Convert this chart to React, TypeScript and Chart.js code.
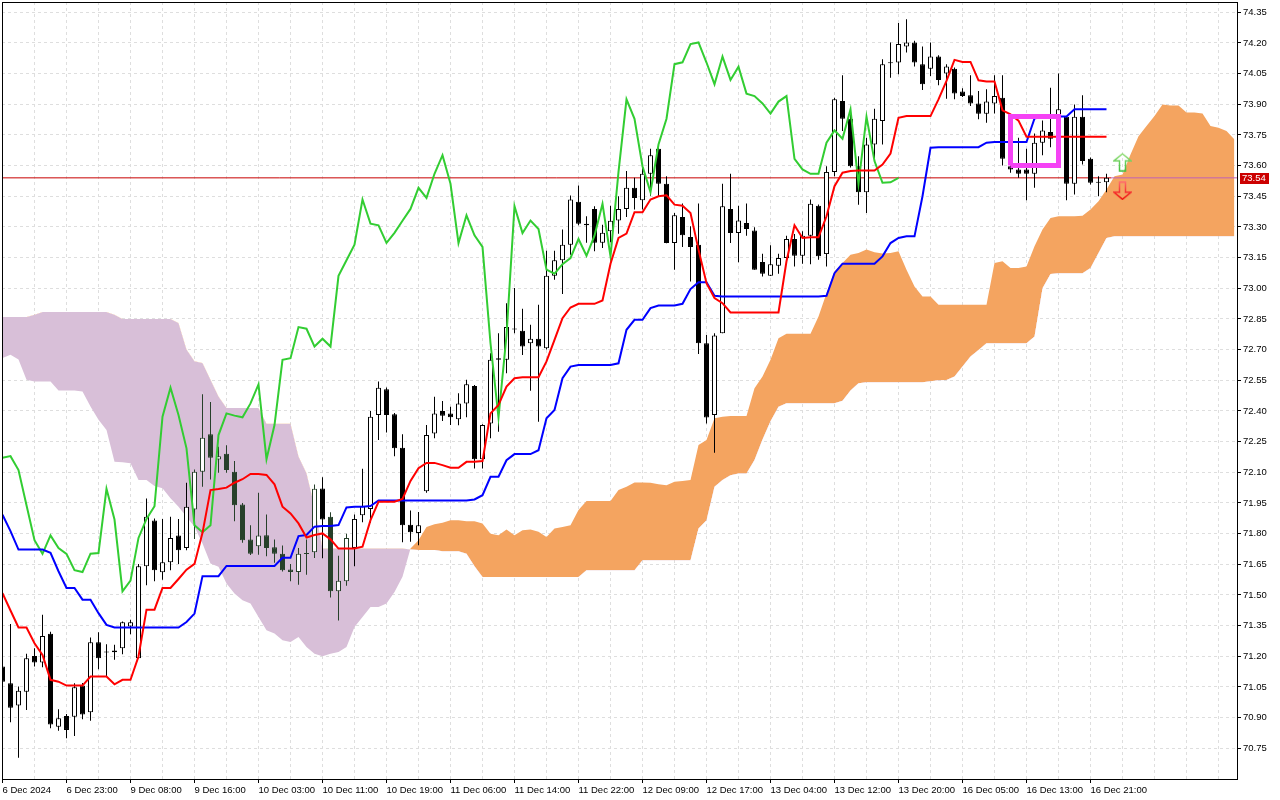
import React, { useEffect, useRef } from "react";
import { Chart, registerables } from "chart.js";

Chart.register(...registerables);

// ---- candle data (hourly bars, index 0..138) ----
const opens = [
  71.150, 71.068, 70.959, 71.027, 71.201, 71.170, 71.310, 70.856, 70.908, 70.905,
  71.057, 70.926, 71.269, 71.220, 71.220, 71.240, 71.346, 71.191, 71.640, 71.864,
  71.611, 71.660, 71.791, 71.730, 71.918, 72.103, 72.286, 72.163, 72.191, 72.103,
  71.942, 71.771, 71.738, 71.792, 71.733, 71.702, 71.624, 71.612, 71.700, 71.709,
  72.021, 71.882, 71.518, 71.567, 71.730, 71.890, 71.921, 72.380, 72.506, 72.384,
  72.220, 71.844, 71.803, 72.007, 72.290, 72.400, 72.388, 72.359, 72.437, 72.522,
  72.164, 72.339, 72.650, 72.650, 72.800, 72.792, 72.731, 72.753, 72.707, 73.061,
  73.137, 73.213, 73.423, 73.316, 73.388, 73.222, 73.279, 73.331, 73.388, 73.491,
  73.431, 73.560, 73.682, 73.511, 73.221, 73.349, 73.251, 73.213, 72.731, 72.380,
  72.780, 73.388, 73.270, 73.319, 73.282, 73.128, 73.061, 73.110, 73.148, 73.241,
  73.159, 73.257, 73.404, 73.167, 73.569, 73.916, 73.829, 73.597, 73.470, 73.703,
  73.818, 74.100, 74.104, 74.182, 74.202, 74.096, 74.074, 74.133, 74.050, 74.074,
  73.962, 73.944, 73.904, 73.854, 73.903, 73.932, 73.597, 73.581, 73.581, 73.560,
  73.712, 73.764, 73.731, 73.839, 73.511, 73.839, 73.633, 73.518, 73.519,
];
const highs = [
  71.220, 71.358, 71.052, 71.212, 71.240, 71.403, 71.320, 70.941, 70.918, 71.068,
  71.070, 71.292, 71.318, 71.259, 71.256, 71.370, 71.379, 71.652, 71.972, 71.874,
  71.872, 71.882, 71.872, 72.049, 72.114, 72.482, 72.444, 72.225, 72.232, 72.155,
  71.950, 71.841, 72.000, 71.893, 71.771, 71.742, 71.652, 71.730, 71.771, 72.040,
  72.076, 71.905, 71.692, 71.800, 71.893, 72.117, 72.400, 72.544, 72.515, 72.390,
  72.286, 71.913, 71.906, 72.331, 72.470, 72.449, 72.421, 72.486, 72.552, 72.527,
  72.335, 72.682, 72.780, 72.927, 73.001, 72.900, 72.821, 72.919, 73.184, 73.184,
  73.287, 73.454, 73.503, 73.352, 73.401, 73.311, 73.404, 73.450, 73.573, 73.540,
  73.594, 73.682, 73.703, 73.548, 73.368, 73.414, 73.303, 73.414, 72.772, 72.780,
  73.511, 73.560, 73.404, 73.414, 73.298, 73.169, 73.210, 73.169, 73.257, 73.265,
  73.279, 73.434, 73.410, 73.597, 73.932, 74.042, 73.859, 73.646, 73.736, 73.878,
  74.120, 74.202, 74.297, 74.316, 74.210, 74.182, 74.202, 74.140, 74.096, 74.080,
  73.978, 74.042, 73.965, 73.973, 74.042, 74.042, 73.600, 73.736, 73.682, 73.757,
  73.821, 73.981, 74.050, 73.840, 73.899, 73.944, 73.640, 73.548, 73.560,
];
const lows = [
  71.030, 70.877, 70.704, 70.938, 71.150, 71.147, 70.848, 70.836, 70.799, 70.810,
  70.892, 70.885, 71.137, 71.104, 71.183, 71.210, 71.308, 71.190, 71.547, 71.567,
  71.575, 71.621, 71.652, 71.719, 71.774, 72.029, 72.065, 72.098, 72.098, 71.861,
  71.755, 71.695, 71.697, 71.689, 71.657, 71.615, 71.567, 71.550, 71.599, 71.681,
  71.680, 71.488, 71.375, 71.545, 71.640, 71.856, 71.853, 72.258, 72.294, 72.179,
  71.758, 71.760, 71.743, 72.000, 72.266, 72.351, 72.331, 72.330, 72.369, 72.119,
  72.119, 72.266, 72.298, 72.584, 72.780, 72.674, 72.499, 72.347, 72.700, 73.042,
  72.972, 73.164, 73.308, 73.222, 73.181, 73.197, 73.225, 73.267, 73.349, 73.385,
  73.385, 73.453, 73.450, 73.220, 73.091, 73.202, 73.033, 72.679, 72.339, 72.195,
  72.780, 73.221, 73.127, 73.257, 73.090, 73.058, 73.060, 73.071, 73.115, 73.107,
  73.120, 73.118, 73.140, 73.107, 73.548, 73.769, 73.590, 73.409, 73.368, 73.630,
  73.703, 74.030, 74.047, 74.153, 74.084, 73.970, 74.038, 73.993, 73.927, 73.924,
  73.935, 73.891, 73.826, 73.810, 73.855, 73.600, 73.565, 73.540, 73.431, 73.491,
  73.651, 73.690, 73.700, 73.431, 73.458, 73.605, 73.507, 73.450, 73.470,
];
const closes = [
  71.076, 70.949, 71.031, 71.191, 71.170, 71.299, 70.867, 70.897, 70.840, 71.049,
  70.916, 71.269, 71.191, 71.222, 71.228, 71.367, 71.367, 71.640, 71.882, 71.621,
  71.660, 71.779, 71.719, 71.931, 72.103, 72.269, 72.171, 72.179, 72.111, 71.939,
  71.768, 71.701, 71.791, 71.730, 71.701, 71.621, 71.612, 71.702, 71.705, 72.019,
  71.869, 71.518, 71.570, 71.779, 71.872, 71.934, 72.372, 72.514, 72.380, 72.217,
  71.841, 71.807, 71.841, 72.282, 72.388, 72.377, 72.369, 72.437, 72.530, 72.164,
  72.331, 72.650, 72.658, 72.810, 72.802, 72.715, 72.753, 72.715, 73.061, 73.137,
  73.213, 73.434, 73.316, 73.308, 73.222, 73.271, 73.330, 73.388, 73.491, 73.442,
  73.560, 73.651, 73.511, 73.221, 73.357, 73.259, 73.202, 72.731, 72.368, 72.769,
  73.401, 73.270, 73.331, 73.290, 73.091, 73.071, 73.118, 73.148, 73.241, 73.159,
  73.257, 73.413, 73.156, 73.569, 73.924, 73.829, 73.597, 73.470, 73.703, 73.829,
  74.096, 74.105, 74.194, 74.202, 74.104, 73.998, 74.133, 74.019, 74.084, 73.952,
  73.940, 73.904, 73.854, 73.913, 73.940, 73.633, 73.581, 73.560, 73.560, 73.712,
  73.772, 73.731, 73.875, 73.511, 73.839, 73.622, 73.516, 73.518, 73.540,
];

// ---- Ichimoku lines ----
const tenkan = [
  71.509, 71.424, 71.341, 71.341, 71.264, 71.207, 71.085, 71.076, 71.057, 71.057,
  71.057, 71.101, 71.101, 71.101, 71.063, 71.085, 71.085, 71.199, 71.428, 71.428,
  71.534, 71.534, 71.578, 71.624, 71.652, 71.804, 72.013, 72.018, 72.025, 72.049,
  72.066, 72.092, 72.092, 72.087, 72.041, 71.932, 71.899, 71.850, 71.781, 71.793,
  71.801, 71.772, 71.727, 71.727, 71.727, 71.736, 71.866, 71.956, 71.956, 71.956,
  71.970, 72.058, 72.120, 72.146, 72.146, 72.135, 72.122, 72.122, 72.151, 72.151,
  72.155, 72.388, 72.429, 72.519, 72.560, 72.565, 72.565, 72.565, 72.642, 72.748,
  72.854, 72.906, 72.924, 72.924, 72.924, 72.940, 73.120, 73.246, 73.267, 73.372,
  73.372, 73.434, 73.450, 73.455, 73.409, 73.404, 73.368, 73.189, 73.025, 72.952,
  72.927, 72.882, 72.882, 72.882, 72.882, 72.882, 72.882, 72.882, 73.132, 73.308,
  73.246, 73.249, 73.249, 73.352, 73.499, 73.565, 73.573, 73.576, 73.576, 73.576,
  73.605, 73.659, 73.834, 73.842, 73.842, 73.842, 73.842, 73.924, 74.014, 74.117,
  74.107, 74.107, 74.017, 74.011, 74.011, 73.870, 73.850, 73.820, 73.741, 73.741,
  73.741, 73.741, 73.741, 73.741, 73.741, 73.741, 73.741, 73.741, 73.741,
];
const kijun = [
  71.893, 71.812, 71.722, 71.722, 71.722, 71.722, 71.706, 71.616, 71.534, 71.534,
  71.477, 71.477, 71.411, 71.354, 71.341, 71.341, 71.341, 71.341, 71.341, 71.341,
  71.341, 71.341, 71.341, 71.368, 71.409, 71.592, 71.592, 71.592, 71.642, 71.642,
  71.642, 71.642, 71.642, 71.642, 71.642, 71.682, 71.682, 71.788, 71.793, 71.834,
  71.837, 71.837, 71.842, 71.928, 71.932, 71.932, 71.935, 71.962, 71.962, 71.962,
  71.962, 71.962, 71.962, 71.962, 71.962, 71.962, 71.962, 71.962, 71.962, 71.967,
  71.988, 72.078, 72.078, 72.159, 72.189, 72.189, 72.189, 72.208, 72.364, 72.405,
  72.560, 72.617, 72.625, 72.625, 72.625, 72.625, 72.625, 72.633, 72.797, 72.846,
  72.846, 72.903, 72.916, 72.916, 72.916, 72.924, 72.996, 73.029, 73.029, 72.963,
  72.960, 72.960, 72.960, 72.960, 72.960, 72.960, 72.960, 72.960, 72.960, 72.960,
  72.960, 72.960, 72.960, 72.963, 73.074, 73.120, 73.120, 73.120, 73.120, 73.120,
  73.156, 73.221, 73.246, 73.254, 73.254, 73.450, 73.687, 73.690, 73.690, 73.690,
  73.690, 73.690, 73.690, 73.712, 73.715, 73.715, 73.715, 73.715, 73.715, 73.830,
  73.840, 73.840, 73.840, 73.840, 73.875, 73.875, 73.875, 73.875, 73.875,
];
// Senkou spans (plotted 26 bars ahead, index 0..154)
const spanA = [
  72.659, 72.675, 72.651, 72.553, 72.544, 72.544, 72.544, 72.500, 72.500, 72.500,
  72.495, 72.422, 72.357, 72.307, 72.152, 72.149, 72.144, 72.062, 72.062, 72.033,
  72.022, 71.973, 71.932, 71.883, 71.834, 71.752, 71.654, 71.638, 71.556, 71.507,
  71.474, 71.458, 71.392, 71.327, 71.311, 71.278, 71.270, 71.294, 71.245, 71.213,
  71.200, 71.213, 71.221, 71.245, 71.343, 71.392, 71.441, 71.441, 71.458, 71.515,
  71.589, 71.727, 71.768, 71.833, 71.846, 71.853, 71.866, 71.866, 71.861, 71.861,
  71.849, 71.800, 71.792, 71.820, 71.792, 71.817, 71.820, 71.809, 71.784, 71.825,
  71.833, 71.841, 71.915, 71.959, 71.959, 71.959, 71.959, 72.013, 72.029, 72.050,
  72.050, 72.049, 72.042, 72.037, 72.054, 72.057, 72.062, 72.233, 72.258, 72.364,
  72.372, 72.375, 72.375, 72.375, 72.511, 72.568, 72.650, 72.756, 72.777, 72.777,
  72.777, 72.777, 72.862, 72.976, 73.083, 73.123, 73.164, 73.172, 73.189, 73.176,
  73.170, 73.172, 73.181, 73.090, 73.009, 72.960, 72.960, 72.919, 72.919, 72.919,
  72.919, 72.919, 72.919, 72.919, 73.123, 73.132, 73.099, 73.099, 73.107, 73.205,
  73.287, 73.344, 73.352, 73.352, 73.352, 73.355, 73.385, 73.426, 73.483, 73.548,
  73.556, 73.654, 73.744, 73.793, 73.842, 73.899, 73.894, 73.894, 73.859, 73.859,
  73.855, 73.793, 73.785, 73.769, 73.728,
];
const spanB = [
  72.860, 72.860, 72.860, 72.860, 72.871, 72.884, 72.884, 72.884, 72.884, 72.884,
  72.884, 72.884, 72.884, 72.884, 72.871, 72.850, 72.850, 72.850, 72.850, 72.850,
  72.850, 72.850, 72.830, 72.700, 72.643, 72.634, 72.553, 72.471, 72.414, 72.414,
  72.414, 72.414, 72.414, 72.337, 72.337, 72.337, 72.337, 72.177, 72.095, 71.932,
  71.727, 71.727, 71.727, 71.727, 71.727, 71.727, 71.727, 71.727, 71.727, 71.727,
  71.727, 71.722, 71.720, 71.720, 71.720, 71.714, 71.714, 71.714, 71.702, 71.640,
  71.588, 71.588, 71.588, 71.588, 71.588, 71.588, 71.588, 71.588, 71.588, 71.588,
  71.588, 71.588, 71.588, 71.621, 71.621, 71.621, 71.621, 71.621, 71.621, 71.621,
  71.670, 71.670, 71.670, 71.670, 71.670, 71.670, 71.670, 71.825, 71.866, 72.029,
  72.062, 72.086, 72.094, 72.094, 72.160, 72.260, 72.350, 72.420, 72.438, 72.438,
  72.438, 72.438, 72.438, 72.438, 72.438, 72.450, 72.500, 72.535, 72.540, 72.540,
  72.540, 72.540, 72.540, 72.540, 72.540, 72.540, 72.545, 72.550, 72.551, 72.568,
  72.617, 72.666, 72.698, 72.731, 72.731, 72.731, 72.731, 72.731, 72.731, 72.764,
  73.000, 73.070, 73.074, 73.074, 73.074, 73.074, 73.099, 73.172, 73.246, 73.254,
  73.254, 73.254, 73.254, 73.254, 73.254, 73.254, 73.254, 73.254, 73.254, 73.254,
  73.254, 73.254, 73.254, 73.254, 73.254,
];
// Chikou span = closing prices plotted 26 bars back (as seen on the chart)
const chikouShift = 26;

// ---- axis labels ----
const timeLabels = [
  "6 Dec 2024", "6 Dec 23:00", "9 Dec 08:00", "9 Dec 16:00", "10 Dec 03:00",
  "10 Dec 11:00", "10 Dec 19:00", "11 Dec 06:00", "11 Dec 14:00", "11 Dec 22:00",
  "12 Dec 09:00", "12 Dec 17:00", "13 Dec 04:00", "13 Dec 12:00", "13 Dec 20:00",
  "16 Dec 05:00", "16 Dec 13:00", "16 Dec 21:00",
];
const priceTicks = [
  70.75, 70.9, 71.05, 71.2, 71.35, 71.5, 71.65, 71.8, 71.95, 72.1, 72.25, 72.4, 72.55,
  72.7, 72.85, 73.0, 73.15, 73.3, 73.45, 73.6, 73.75, 73.9, 74.05, 74.2, 74.35,
];
const lastPrice = 73.54;

// ---- annotations ----
const boxBars = [126, 132];
const boxPrices = [73.6, 73.84];
const arrowBar = 140;
const arrowUpPrice = 73.616;
const arrowDownPrice = 73.477;

// ---- layout / style ----
const X_MIN = -0.0625;
const X_MAX = 154.3125;
const Y_MIN = 70.6;
const Y_MAX = 74.4;
const LABEL_EVERY = 8;
const GRID_EVERY = 4;
const FONT = "'Liberation Sans', Arial, sans-serif";
const ORANGE = "#f4a460";
const THISTLE = "#d8bfd8";

function tint(i: number, price: number): string {
  const a = spanA[i];
  const b = spanB[i];
  if (price > Math.min(a, b) && price < Math.max(a, b)) {
    return b > a ? "#27402a" : "#0b5b9f";
  }
  return "#000000";
}

function isLabelTick(v: number): boolean {
  return v % LABEL_EVERY === 0 && v / LABEL_EVERY < timeLabels.length;
}

function makeArrow(up: boolean, top: string, bottom: string): HTMLCanvasElement {
  const c = document.createElement("canvas");
  c.width = 19;
  c.height = 19;
  const g = c.getContext("2d")!;
  const grad = g.createLinearGradient(0, 0, 0, 19);
  grad.addColorStop(0, top);
  grad.addColorStop(1, bottom);
  g.strokeStyle = grad;
  g.lineWidth = 1.5;
  g.beginPath();
  if (up) {
    g.moveTo(9.5, 1);
    g.lineTo(18, 8);
    g.lineTo(12.5, 8);
    g.lineTo(12.5, 18);
    g.lineTo(6.5, 18);
    g.lineTo(6.5, 8);
    g.lineTo(1, 8);
  } else {
    g.moveTo(9.5, 18);
    g.lineTo(18, 11);
    g.lineTo(12.5, 11);
    g.lineTo(12.5, 1);
    g.lineTo(6.5, 1);
    g.lineTo(6.5, 11);
    g.lineTo(1, 11);
  }
  g.closePath();
  g.stroke();
  return c;
}

const framePlugin = {
  id: "frame",
  afterDraw(chart: any) {
    const { ctx, chartArea: a } = chart;
    const y = chart.scales.y;
    ctx.save();
    ctx.strokeStyle = "#000";
    ctx.lineWidth = 1;
    ctx.strokeRect(a.left + 0.5, a.top + 0.5, a.right - a.left, a.bottom - a.top);
    const py = y.getPixelForValue(lastPrice);
    ctx.fillStyle = "#cc0000";
    ctx.fillRect(a.right + 3, Math.round(py) - 5, 29, 11);
    ctx.fillStyle = "#ffffff";
    ctx.font = `9.5px ${FONT}`;
    ctx.textBaseline = "middle";
    ctx.textAlign = "left";
    ctx.fillText(lastPrice.toFixed(2), a.right + 5, Math.round(py) + 0.5);
    ctx.restore();
  },
};

export default function App() {
  const ref = useRef<HTMLCanvasElement>(null);

  useEffect(() => {
    if (!ref.current) return;
    Chart.defaults.font.family = FONT;

    const pts = (arr: number[], offset = 0) => arr.map((v, i) => ({ x: i + offset, y: v }));

    const bodyData = opens.map((o, i) => {
      const c = closes[i];
      let lo = Math.min(o, c);
      let hi = Math.max(o, c);
      if (hi - lo < 0.005) {
        const m = (hi + lo) / 2;
        lo = m - 0.0025;
        hi = m + 0.0025;
      }
      return { x: i, y: [lo, hi] };
    });
    const tints = opens.map((o, i) => tint(i, (o + closes[i]) / 2));
    const bodyFill = opens.map((o, i) => {
      const c = closes[i];
      if (Math.abs(c - o) < 0.005) return tints[i];
      return c > o ? "#ffffff" : tints[i];
    });

    const gridBars: number[] = [];
    for (let v = 0; v <= X_MAX; v += GRID_EVERY) gridBars.push(v);

    const chikou = closes.slice(chikouShift);
    const priceSplit = 138.6;

    const chart = new Chart(ref.current, {
      type: "bar",
      data: {
        datasets: [
          {
            type: "line",
            data: pts(spanA),
            borderColor: "rgba(0,0,0,0)",
            borderWidth: 0,
            pointRadius: 0,
            fill: { target: 1, above: ORANGE, below: THISTLE },
            order: 40,
          } as any,
          {
            type: "line",
            data: pts(spanB),
            borderColor: "rgba(0,0,0,0)",
            borderWidth: 0,
            pointRadius: 0,
            fill: false,
            order: 41,
          } as any,
          {
            type: "line",
            data: [
              { x: X_MIN, y: lastPrice },
              { x: priceSplit, y: lastPrice },
            ],
            borderColor: "#c80000",
            borderWidth: 1,
            pointRadius: 0,
            order: 35,
          } as any,
          {
            type: "line",
            data: [
              { x: priceSplit, y: lastPrice },
              { x: X_MAX, y: lastPrice },
            ],
            borderColor: "#c060b4",
            borderWidth: 1,
            pointRadius: 0,
            order: 35,
          } as any,
          {
            type: "bar",
            data: highs.map((h, i) => ({ x: i, y: [lows[i], h] })),
            backgroundColor: tints,
            borderWidth: 0,
            grouped: false,
            barPercentage: 0.125,
            categoryPercentage: 1,
            inflateAmount: 0,
            order: 21,
          } as any,
          {
            type: "bar",
            data: bodyData,
            backgroundColor: bodyFill,
            borderColor: tints,
            borderWidth: 1,
            borderSkipped: false,
            grouped: false,
            barPercentage: 0.625,
            categoryPercentage: 1,
            inflateAmount: 0,
            order: 20,
          } as any,
          {
            type: "line",
            data: pts(chikou),
            borderColor: "#32cd32",
            borderWidth: 2,
            pointRadius: 0,
            tension: 0,
            order: 12,
          } as any,
          {
            type: "line",
            data: pts(kijun),
            borderColor: "#0000ff",
            borderWidth: 2,
            pointRadius: 0,
            tension: 0,
            order: 11,
          } as any,
          {
            type: "line",
            data: pts(tenkan),
            borderColor: "#ff0000",
            borderWidth: 2,
            pointRadius: 0,
            tension: 0,
            order: 10,
          } as any,
          {
            type: "line",
            data: [
              { x: boxBars[0], y: boxPrices[0] },
              { x: boxBars[0], y: boxPrices[1] },
              { x: boxBars[1], y: boxPrices[1] },
              { x: boxBars[1], y: boxPrices[0] },
              { x: boxBars[0], y: boxPrices[0] },
            ],
            borderColor: "#f542f5",
            borderWidth: 5,
            borderJoinStyle: "miter",
            pointRadius: 0,
            order: 5,
          } as any,
          {
            type: "line",
            data: [{ x: arrowBar, y: arrowUpPrice }],
            showLine: false,
            pointStyle: makeArrow(true, "#9be07e", "#3cbf3c"),
            pointRadius: 9,
            order: 4,
          } as any,
          {
            type: "line",
            data: [{ x: arrowBar, y: arrowDownPrice }],
            showLine: false,
            pointStyle: makeArrow(false, "#ff7070", "#ee0000"),
            pointRadius: 9,
            order: 4,
          } as any,
        ],
      },
      options: {
        responsive: false,
        animation: false,
        devicePixelRatio: 1,
        events: [],
        layout: { padding: { left: 2, top: 2, right: 0, bottom: 0 }, autoPadding: false },
        plugins: {
          legend: { display: false },
          tooltip: { enabled: false },
        },
        scales: {
          x: {
            type: "linear",
            min: X_MIN,
            max: X_MAX,
            offset: false,
            afterBuildTicks: (s: any) => {
              s.ticks = gridBars.map((v) => ({ value: v }));
            },
            afterFit: (s: any) => {
              s.height = 21;
              s.paddingLeft = 0;
              s.paddingRight = 0;
              s.paddingTop = 0;
              s.paddingBottom = 0;
            },
            ticks: {
              autoSkip: false,
              maxRotation: 0,
              minRotation: 0,
              align: "start",
              padding: 2,
              color: "#000",
              font: { size: 9.5, family: FONT },
              callback: (v: any) =>
                isLabelTick(Number(v)) ? timeLabels[Number(v) / LABEL_EVERY] : "",
            },
            grid: {
              offset: false,
              color: "#dedede",
              lineWidth: 1,
              drawTicks: true,
              tickLength: 4,
              tickWidth: 1,
              tickColor: (c: any) =>
                c.tick && isLabelTick(c.tick.value) ? "#000" : "rgba(0,0,0,0)",
            },
            border: { display: false, dash: [3, 3] },
          } as any,
          y: {
            type: "linear",
            position: "right",
            min: Y_MIN,
            max: Y_MAX,
            afterBuildTicks: (s: any) => {
              s.ticks = priceTicks.map((v) => ({ value: v }));
            },
            afterFit: (s: any) => {
              s.width = 43;
              s.paddingLeft = 0;
              s.paddingRight = 0;
              s.paddingTop = 0;
              s.paddingBottom = 0;
            },
            ticks: {
              padding: 2,
              color: "#000",
              font: { size: 9.5, family: FONT },
              callback: (v: any) => Number(v).toFixed(2),
            },
            grid: {
              color: "#dedede",
              lineWidth: 1,
              tickLength: 4,
              tickColor: "#000",
              tickWidth: 1,
            },
            border: { display: false, dash: [3, 3] },
          } as any,
        },
      },
      plugins: [framePlugin],
    } as any);

    return () => chart.destroy();
  }, []);

  return (
    <div
      style={{
        position: "absolute",
        left: 0,
        top: 0,
        width: 1280,
        height: 800,
        background: "#ffffff",
      }}
    >
      <canvas ref={ref} width={1280} height={800} style={{ display: "block", width: 1280, height: 800 }} />
    </div>
  );
}
